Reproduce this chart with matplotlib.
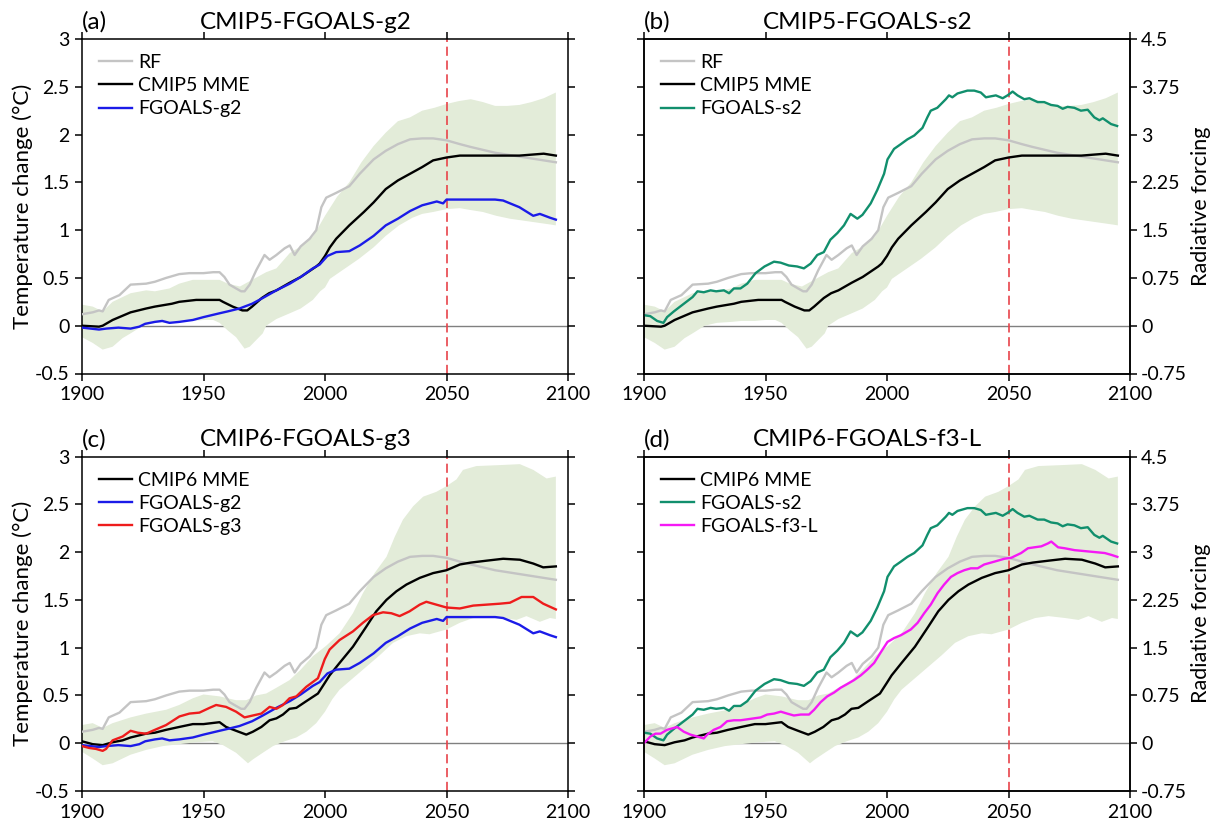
import numpy as np
import matplotlib
matplotlib.use("Agg")
import matplotlib.pyplot as plt

plt.rcParams['font.family'] = ['Lato', 'DejaVu Sans']

# (year, value) pairs, temperature change in degC
rf = [(1900, 0.12), (1904.4, 0.14), (1907, 0.16), (1908.5, 0.15), (1911, 0.27), (1915.4, 0.32),
      (1920, 0.43), (1926.4, 0.44), (1930, 0.46), (1934.6, 0.50), (1940, 0.54), (1944.2, 0.55),
      (1950, 0.55), (1954, 0.56), (1956.6, 0.56), (1958.6, 0.51), (1960.7, 0.43), (1963.4, 0.39),
      (1965.5, 0.36), (1966.9, 0.36), (1969, 0.43), (1971.7, 0.58), (1975.1, 0.74), (1977.2, 0.69),
      (1980, 0.74), (1983.4, 0.81), (1985.5, 0.84), (1987.5, 0.74), (1990, 0.83), (1993.7, 0.91),
      (1996.4, 1.0), (1998.5, 1.24), (2000.5, 1.34), (2004.6, 1.39), (2010, 1.46), (2014.3, 1.59),
      (2020, 1.74), (2025, 1.83), (2030, 1.90), (2035, 1.95), (2040, 1.96), (2044.5, 1.96),
      (2050, 1.94), (2055.5, 1.90), (2060, 1.87), (2070, 1.81), (2080, 1.77), (2090, 1.73), (2095, 1.71)]

cmip5_mme = [(1900, 0.0), (1907, -0.01), (1908.5, 0.0), (1912.6, 0.06), (1920, 0.14), (1926.4, 0.18),
             (1930, 0.20), (1937, 0.23), (1940, 0.25), (1947, 0.27), (1950, 0.27), (1956.6, 0.27),
             (1958, 0.25), (1962, 0.20), (1966, 0.16), (1968, 0.16), (1970, 0.20), (1974, 0.29),
             (1977, 0.34), (1980, 0.37), (1985.5, 0.45), (1990, 0.51), (1996.4, 0.62), (1997.8, 0.65),
             (2000, 0.73), (2002, 0.82), (2004.6, 0.91), (2010, 1.05), (2016, 1.19), (2020, 1.29),
             (2025, 1.43), (2030, 1.52), (2035, 1.59), (2040, 1.66), (2044.5, 1.73), (2050, 1.76),
             (2055.5, 1.78), (2060, 1.78), (2070, 1.78), (2080, 1.78), (2090, 1.80), (2095, 1.78)]

fgoals_g2 = [(1900, -0.02), (1907, -0.04), (1910, -0.03), (1915, -0.02), (1920, -0.03), (1923.6, -0.01),
             (1926, 0.02), (1930, 0.04), (1933, 0.05), (1936, 0.03), (1940, 0.04), (1945.6, 0.06),
             (1950, 0.09), (1956.6, 0.13), (1960, 0.15), (1964.8, 0.18), (1970, 0.23), (1974.4, 0.29),
             (1980, 0.37), (1985.5, 0.44), (1990, 0.51), (1995, 0.60), (1997.8, 0.64), (2001, 0.73),
             (2004.6, 0.77), (2010, 0.78), (2014.3, 0.84), (2020, 0.94), (2025, 1.05), (2030, 1.12),
             (2035, 1.20), (2040, 1.26), (2046, 1.30), (2048.6, 1.28), (2050, 1.32), (2055.5, 1.32),
             (2060, 1.32), (2070, 1.32), (2073.3, 1.31), (2080, 1.24), (2085.7, 1.15), (2088.4, 1.17),
             (2092.6, 1.13), (2095, 1.11)]

fgoals_s2 = [(1900, 0.11), (1902.6, 0.10), (1905.4, 0.05), (1908, 0.03), (1909.5, 0.09), (1912.3, 0.15),
             (1916.4, 0.23), (1920, 0.30), (1922, 0.36), (1924.6, 0.35), (1927.4, 0.37), (1929.7, 0.36),
             (1932.9, 0.37), (1935, 0.34), (1937, 0.39), (1939.7, 0.39), (1942.5, 0.44), (1945.9, 0.55),
             (1949.6, 0.62), (1953.5, 0.67), (1956.2, 0.66), (1959.6, 0.63), (1963, 0.62), (1965.8, 0.60),
             (1968.6, 0.65), (1971.3, 0.74), (1974, 0.77), (1976.7, 0.90), (1979.6, 0.97), (1982.3, 1.05),
             (1985, 1.17), (1987.8, 1.12), (1989.9, 1.16), (1993.3, 1.28), (1996, 1.42), (1998.8, 1.59),
             (2000.2, 1.74), (2002.9, 1.85), (2005.7, 1.90), (2008.4, 1.95), (2011.2, 1.99), (2014.6, 2.07),
             (2016.6, 2.18), (2018, 2.25), (2020.7, 2.28), (2024.2, 2.37), (2025.5, 2.41), (2026.9, 2.39),
             (2029, 2.43), (2033.1, 2.46), (2035.9, 2.46), (2038.6, 2.44), (2040.7, 2.39), (2042.7, 2.40),
             (2044.8, 2.41), (2047.6, 2.38), (2049.6, 2.41), (2051.7, 2.45), (2053.7, 2.41), (2056.5, 2.37),
             (2058.6, 2.38), (2062, 2.34), (2064.7, 2.34), (2067.5, 2.31), (2070.2, 2.30), (2072.3, 2.27),
             (2074.3, 2.29), (2077.1, 2.28), (2079.8, 2.25), (2082.6, 2.26), (2085.3, 2.18), (2087.4, 2.15),
             (2088.8, 2.17), (2092.2, 2.11), (2094.7, 2.09)]

cmip6_mme = [(1900, 0.02), (1904.4, -0.01), (1908.5, -0.02), (1912.6, 0.01), (1916.7, 0.03), (1920, 0.06),
             (1926.4, 0.10), (1930, 0.11), (1934.6, 0.14), (1940, 0.17), (1945.6, 0.20), (1950, 0.20),
             (1956.6, 0.22), (1959.3, 0.17), (1963.4, 0.13), (1967.6, 0.09), (1970.3, 0.12), (1973.8, 0.17),
             (1977.2, 0.24), (1980, 0.26), (1982.7, 0.30), (1985.4, 0.36), (1988.2, 0.37), (1992.3, 0.44),
             (1997.1, 0.52), (1999.9, 0.63), (2001.9, 0.71), (2006, 0.84), (2011.5, 1.01), (2017, 1.22),
             (2021.1, 1.38), (2025.3, 1.50), (2029.4, 1.59), (2033.5, 1.66), (2039, 1.73), (2044.5, 1.78),
             (2050, 1.81), (2055.5, 1.87), (2060, 1.89), (2066.5, 1.91), (2073.3, 1.93), (2080.2, 1.92),
             (2085.7, 1.88), (2089.8, 1.84), (2095, 1.85)]

fgoals_g3 = [(1900, -0.03), (1903, -0.05), (1905.8, -0.06), (1908.5, -0.08), (1909.9, -0.06), (1912.6, 0.03),
             (1916.7, 0.07), (1920, 0.13), (1922.9, 0.11), (1926.4, 0.10), (1930, 0.14), (1934.6, 0.19),
             (1940.1, 0.28), (1944.2, 0.31), (1948.3, 0.32), (1952.5, 0.37), (1955.2, 0.40), (1959.3, 0.38),
             (1963.4, 0.33), (1966.9, 0.27), (1970.3, 0.29), (1973.8, 0.31), (1977.2, 0.38), (1980, 0.36),
             (1982.7, 0.40), (1985.4, 0.47), (1988.2, 0.49), (1992.3, 0.59), (1997.1, 0.68), (1999.9, 0.88),
             (2001.9, 0.98), (2006, 1.08), (2011.5, 1.17), (2015.6, 1.26), (2019.7, 1.34), (2023.9, 1.37),
             (2027.3, 1.36), (2030.7, 1.33), (2034.8, 1.38), (2039, 1.45), (2041.7, 1.48), (2045.8, 1.45),
             (2050, 1.42), (2055.5, 1.41), (2061, 1.44), (2066.5, 1.45), (2072, 1.46), (2076.1, 1.47),
             (2080.9, 1.53), (2085.7, 1.53), (2089.8, 1.46), (2095, 1.40)]

fgoals_f3l = [(1900, 0.0), (1902.6, 0.07), (1904.7, 0.10), (1906.8, 0.10), (1909.5, 0.14), (1912.3, 0.16),
              (1913.6, 0.17), (1916.4, 0.12), (1919.1, 0.09), (1921.9, 0.07), (1924.6, 0.05), (1926, 0.09),
              (1928.7, 0.14), (1931.5, 0.17), (1934.2, 0.23), (1937, 0.24), (1939.7, 0.24), (1942.5, 0.25),
              (1945.2, 0.26), (1948, 0.27), (1950.7, 0.30), (1953.5, 0.31), (1956.3, 0.33), (1958.9, 0.31),
              (1961.7, 0.29), (1964.5, 0.30), (1967.9, 0.30), (1970, 0.35), (1972.7, 0.43), (1975.4, 0.49),
              (1978.2, 0.53), (1980.9, 0.58), (1983.7, 0.62), (1986.4, 0.66), (1989.2, 0.71), (1991.9, 0.77),
              (1994.7, 0.84), (1997.4, 0.95), (2000.2, 1.06), (2002.9, 1.10), (2005.7, 1.13), (2009.8, 1.19),
              (2012.6, 1.26), (2015.3, 1.36), (2018, 1.45), (2020.8, 1.57), (2023.5, 1.66), (2026.3, 1.74),
              (2029, 1.78), (2031.8, 1.81), (2034.5, 1.83), (2037.3, 1.83), (2040, 1.87), (2044.2, 1.90),
              (2048.3, 1.93), (2051.1, 1.94), (2055.2, 1.99), (2058, 2.04), (2060.7, 2.05), (2063.5, 2.06),
              (2066.2, 2.09), (2067.6, 2.11), (2070.4, 2.05), (2073.1, 2.04), (2077.2, 2.02), (2081.4, 2.01),
              (2085.5, 2.00), (2089.6, 1.99), (2092.4, 1.97), (2094.8, 1.95)]

# ensemble spread (upper / lower edges)
cmip5_upper = [(1900, 0.22), (1904.4, 0.20), (1908.5, 0.15), (1912.6, 0.25), (1920, 0.34), (1926.4, 0.37),
               (1930, 0.36), (1936, 0.39), (1940, 0.44), (1945.6, 0.48), (1950, 0.48), (1956.6, 0.48),
               (1960, 0.44), (1965, 0.41), (1970, 0.48), (1975.8, 0.56), (1980, 0.60), (1985.5, 0.76),
               (1990, 0.83), (1995, 0.93), (2000, 1.15), (2005, 1.35), (2010, 1.50), (2015, 1.71),
               (2020, 1.88), (2025, 2.02), (2030, 2.14), (2035, 2.18), (2040, 2.25), (2045, 2.28),
               (2050, 2.32), (2055, 2.35), (2060, 2.37), (2065, 2.34), (2070, 2.30), (2075, 2.30),
               (2080, 2.31), (2085, 2.34), (2090, 2.38), (2095, 2.44)]
cmip5_lower = [(1900, -0.12), (1904.4, -0.18), (1908.5, -0.25), (1912.6, -0.22), (1916.7, -0.13), (1920, -0.08),
               (1925, 0.0), (1930, 0.03), (1936, 0.04), (1940, 0.05), (1945.6, 0.05), (1950, 0.06),
               (1954, 0.06), (1956.6, 0.03), (1960, -0.05), (1963.4, -0.12), (1966.9, -0.24), (1969, -0.22),
               (1971.7, -0.15), (1974.4, -0.08), (1975.8, 0.0), (1980, 0.07), (1985.5, 0.13), (1990, 0.18),
               (1995, 0.27), (1998, 0.36), (2000, 0.40), (2002, 0.49), (2006, 0.56), (2010, 0.63),
               (2014, 0.70), (2020, 0.82), (2025, 0.94), (2030.5, 1.05), (2036, 1.13), (2040, 1.17),
               (2044.5, 1.19), (2050, 1.22), (2055.5, 1.23), (2060, 1.21), (2065, 1.19), (2070.5, 1.15),
               (2076, 1.12), (2081.5, 1.10), (2087, 1.08), (2092.5, 1.06), (2095, 1.05)]

cmip6_upper = [(1900, 0.19), (1904.4, 0.21), (1908.5, 0.16), (1912.6, 0.21), (1920, 0.27), (1926.4, 0.31),
               (1934.6, 0.35), (1940, 0.40), (1945.6, 0.47), (1950, 0.51), (1956.6, 0.49), (1963.4, 0.45),
               (1967.6, 0.45), (1971.7, 0.50), (1975.8, 0.52), (1980, 0.58), (1985.4, 0.66), (1990, 0.77),
               (1995, 0.91), (2000.5, 1.02), (2006, 1.15), (2011.5, 1.36), (2015.6, 1.57), (2020.4, 1.78),
               (2025.3, 1.95), (2028.7, 2.16), (2032.1, 2.34), (2036.3, 2.48), (2040.4, 2.58), (2045.8, 2.63),
               (2050, 2.69), (2054.1, 2.76), (2056.8, 2.86), (2062.3, 2.90), (2071.9, 2.91), (2080.2, 2.92),
               (2085.7, 2.86), (2091.2, 2.77), (2095, 2.79)]
cmip6_lower = [(1900, -0.09), (1904.4, -0.16), (1908.5, -0.23), (1912.6, -0.21), (1916.7, -0.16), (1920, -0.12),
               (1926.4, -0.07), (1933.3, -0.03), (1940, -0.01), (1947, 0.01), (1953.8, 0.02), (1958, -0.02),
               (1963.4, -0.10), (1968.3, -0.21), (1970.3, -0.17), (1974.4, -0.10), (1978.6, -0.03), (1983.4, 0.02),
               (1988.2, 0.06), (1992.3, 0.12), (1996.4, 0.21), (2000, 0.33), (2003, 0.46), (2006, 0.56),
               (2011.5, 0.68), (2017, 0.80), (2022.5, 0.92), (2028, 1.05), (2033.5, 1.12), (2039, 1.15),
               (2043, 1.14), (2047.2, 1.17), (2050, 1.19), (2055.5, 1.26), (2061, 1.31), (2066.5, 1.33),
               (2073.3, 1.31), (2078.8, 1.29), (2082.9, 1.33), (2088.4, 1.27), (2092.6, 1.31), (2095, 1.30)]

temp_ticks = [-0.5, 0, 0.5, 1, 1.5, 2, 2.5, 3]
temp_labels = ['-0.5', '0', '0.5', '1', '1.5', '2', '2.5', '3']
rf_ticks = [-0.75, 0, 0.75, 1.5, 2.25, 3, 3.75, 4.5]
rf_labels = ['-0.75', '0', '0.75', '1.5', '2.25', '3', '3.75', '4.5']
year_ticks = [1900, 1950, 2000, 2050, 2100]

C_RF = '#c4c4c4'
C_BAND = '#e3ecd9'
C_BLUE = '#1b1be8'
C_GREEN = '#118f6d'
C_RED = '#ee1c1c'
C_MAG = '#f519f5'


def xy(pairs):
    a = np.array(pairs)
    return a[:, 0], a[:, 1]


def band(ax, upper, lower):
    xu, yu = xy(upper)
    xl, yl = xy(lower)
    ax.fill(np.r_[xu, xl[::-1]], np.r_[yu, yl[::-1]], color=C_BAND, lw=0, zorder=2)


def frame(ax, letter, title, left_labels):
    ax.set_xlim(1900, 2100)
    ax.set_ylim(-0.5, 3)
    ax.set_xticks(year_ticks)
    ax.set_xticklabels([str(t) for t in year_ticks])
    ax.set_yticks(temp_ticks)
    ax.tick_params(direction='out', length=5, width=1.1, top=True, right=True,
                   labelsize=14, pad=4)
    if left_labels:
        ax.set_yticklabels(temp_labels)
        ax.set_ylabel('Temperature change (°C)', fontsize=16, labelpad=1)
    else:
        ax.tick_params(labelleft=False, right=False)
        tw = ax.twinx()
        tw.set_ylim(-0.75, 4.5)
        tw.set_yticks(rf_ticks)
        tw.set_yticklabels(rf_labels)
        tw.tick_params(direction='out', length=5, width=1.1, labelsize=14, pad=3)
        tw.set_ylabel('Radiative forcing', fontsize=15.5, labelpad=3)
        for s in tw.spines.values():
            s.set_linewidth(1.1)
    for s in ax.spines.values():
        s.set_linewidth(1.1)
    ax.axhline(0, color='#808080', lw=1.0, zorder=1)
    ax.axvline(2050, color='#e8434a', lw=1.2, dashes=(5.5, 2.8), zorder=2.5)
    ax.text(0.0, 1.018, letter, transform=ax.transAxes, fontsize=17.5, va='bottom', ha='left')
    ax.text(0.46, 1.018, title, transform=ax.transAxes, fontsize=17.5, va='bottom', ha='center')


def line(ax, pairs, color, label, lw=1.7, z=3):
    x, y = xy(pairs)
    return ax.plot(x, y, color=color, lw=lw, label=label, zorder=z)[0]


def legend(ax, handles):
    ax.legend(handles=handles, loc='upper left', bbox_to_anchor=(0.035, 0.955), frameon=False,
              fontsize=14, handlelength=1.7, handletextpad=0.3, labelspacing=0.32,
              borderaxespad=0, borderpad=0)


fig = plt.figure(figsize=(12.11, 8.25), dpi=100)
W, H = 1211, 825
ax_a = fig.add_axes([82 / W, (H - 373.5) / H, 486 / W, 334.5 / H])
ax_b = fig.add_axes([644 / W, (H - 373.5) / H, 486 / W, 334.5 / H])
ax_c = fig.add_axes([82 / W, (H - 791) / H, 486 / W, 334.5 / H])
ax_d = fig.add_axes([644 / W, (H - 791) / H, 486 / W, 334.5 / H])

# (a)
frame(ax_a, '(a)', 'CMIP5-FGOALS-g2', True)
band(ax_a, cmip5_upper, cmip5_lower)
h1 = line(ax_a, rf, C_RF, 'RF')
h2 = line(ax_a, cmip5_mme, 'black', 'CMIP5 MME', z=4)
h3 = line(ax_a, fgoals_g2, C_BLUE, 'FGOALS-g2', z=5)
legend(ax_a, [h1, h2, h3])

# (b)
frame(ax_b, '(b)', 'CMIP5-FGOALS-s2', False)
band(ax_b, cmip5_upper, cmip5_lower)
h1 = line(ax_b, rf, C_RF, 'RF')
h2 = line(ax_b, cmip5_mme, 'black', 'CMIP5 MME', z=4)
h3 = line(ax_b, fgoals_s2, C_GREEN, 'FGOALS-s2', z=5)
legend(ax_b, [h1, h2, h3])

# (c)
frame(ax_c, '(c)', 'CMIP6-FGOALS-g3', True)
band(ax_c, cmip6_upper, cmip6_lower)
line(ax_c, rf, C_RF, 'RF')
h1 = line(ax_c, cmip6_mme, 'black', 'CMIP6 MME', z=4)
h2 = line(ax_c, fgoals_g2, C_BLUE, 'FGOALS-g2', z=5)
h3 = line(ax_c, fgoals_g3, C_RED, 'FGOALS-g3', z=6)
legend(ax_c, [h1, h2, h3])

# (d)
frame(ax_d, '(d)', 'CMIP6-FGOALS-f3-L', False)
band(ax_d, cmip6_upper, cmip6_lower)
line(ax_d, rf, C_RF, 'RF')
h1 = line(ax_d, cmip6_mme, 'black', 'CMIP6 MME', z=4)
h2 = line(ax_d, fgoals_s2, C_GREEN, 'FGOALS-s2', z=5)
h3 = line(ax_d, fgoals_f3l, C_MAG, 'FGOALS-f3-L', z=6)
legend(ax_d, [h1, h2, h3])

fig.savefig('out.png', dpi=100)
